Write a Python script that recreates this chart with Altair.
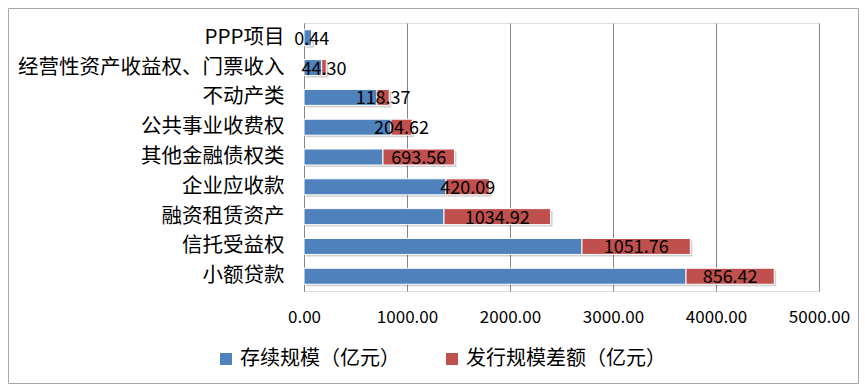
import altair as alt
import pandas as pd

categories = ["PPP项目", "经营性资产收益权、门票收入", "不动产类", "公共事业收费权",
              "其他金融债权类", "企业应收款", "融资租赁资产", "信托受益权", "小额贷款"]
existing = [75, 172, 709, 845, 767, 1379, 1359, 2699, 3709]
diff = [0.44, 44.30, 118.37, 204.62, 693.56, 420.09, 1034.92, 1051.76, 856.42]
series_names = ["存续规模（亿元）", "发行规模差额（亿元）"]
colors = ["#4F81BD", "#C0504D"]
x_ticks = [0, 1000, 2000, 3000, 4000, 5000]

FONT = "Noto Sans CJK SC"

rows = []
for c, e, d in zip(categories, existing, diff):
    rows.append({"cat": c, "series": series_names[0], "value": e, "ord": 0})
    rows.append({"cat": c, "series": series_names[1], "value": d, "ord": 1})
long_df = pd.DataFrame(rows)
wide_df = pd.DataFrame({"cat": categories, "existing": existing, "diff": diff})

y_enc = alt.Y("cat:N", sort=categories, title=None,
              scale=alt.Scale(paddingInner=0.45, paddingOuter=0.22),
              axis=alt.Axis(labelFontSize=20.5, labelFont=FONT, labelColor="#000",
                            labelPadding=20, ticks=False, domainColor="#868686",
                            labelLimit=400))
x_scale = alt.Scale(domain=[0, 5000], nice=False)

shadow = alt.Chart(wide_df).transform_calculate(
    total="datum.existing + datum.diff"
).mark_bar(color="#000000", opacity=0.18, xOffset=2, yOffset=2, size=16).encode(
    x=alt.X("total:Q", scale=x_scale),
    y=y_enc,
)

bars = alt.Chart(long_df).mark_bar(size=16, stroke="white", strokeWidth=1).encode(
    x=alt.X("value:Q", stack="zero", scale=x_scale, title=None,
            axis=alt.Axis(values=x_ticks, format=".2f", labelFontSize=17,
                          labelFont=FONT, labelColor="#000", grid=True,
                          gridColor="#868686", domain=False, ticks=False,
                          labelPadding=18, labelFlush=False, labelOverlap=False)),
    y=y_enc,
    color=alt.Color("series:N", sort=series_names,
                    scale=alt.Scale(domain=series_names, range=colors),
                    legend=alt.Legend(title=None, orient="none", legendX=-88, legendY=326,
                                      direction="horizontal", symbolType="square",
                                      symbolSize=144, symbolStrokeWidth=0,
                                      labelFontSize=20, labelFont=FONT, labelColor="#000",
                                      labelLimit=400,
                                      columnPadding=42, labelOffset=4)),
    order=alt.Order("ord:Q"),
)

labels = alt.Chart(wide_df).transform_calculate(
    mid="datum.existing + datum.diff / 2",
    lab="format(datum.diff, '.2f')"
).mark_text(fontSize=18, font=FONT, color="#000", baseline="middle", dy=2).encode(
    x=alt.X("mid:Q", scale=x_scale),
    y=y_enc,
    text="lab:N",
)

frame = alt.Chart(pd.DataFrame({"a": [0]})).mark_rect(
    fill=None, stroke="#A6A6A6", strokeWidth=1
).encode(
    x=alt.value(-295.5), x2=alt.value(554.5),
    y=alt.value(-14.5), y2=alt.value(360.5),
)

chart = alt.layer(shadow, bars, labels, frame).properties(
    width=515, height=268,
    autosize=alt.AutoSizeParams(type="none"),
    padding={"left": 296, "top": 15, "right": 40, "bottom": 93},
).configure_view(stroke=None).configure(background="white")

chart.save("out.html", embed_options={"renderer": "svg", "actions": False})
